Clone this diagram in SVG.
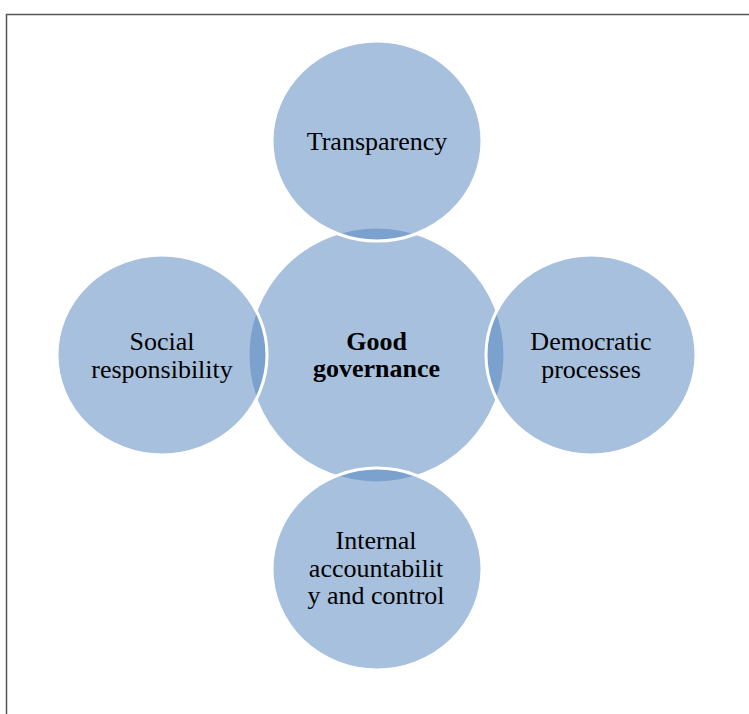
<svg xmlns="http://www.w3.org/2000/svg" width="749" height="714" viewBox="0 0 749 714">
<style>
.c{fill:#4F81BD;fill-opacity:0.5;stroke:#FFFFFF;stroke-width:3}
.t{font-family:"Liberation Serif","Times New Roman",serif;font-size:26px;fill:#000;text-anchor:middle}
.b{font-weight:bold}
</style>
<rect x="0" y="0" width="749" height="714" fill="#FFFFFF"/>
<path d="M6.5 714 V14.5 H749" fill="none" stroke="#555555" stroke-width="1.5"/>
<g id="good-governance">
<ellipse class="c" cx="376.5" cy="355" rx="128.5" ry="128"/>
</g>
<g id="transparency">
<ellipse class="c" cx="377" cy="141" rx="105" ry="100"/>
<text class="t" x="377" y="150">Transparency</text>
</g>
<g id="social-responsibility">
<ellipse class="c" cx="162" cy="355" rx="105" ry="100"/>
<text class="t" x="162" y="350">Social</text>
<text class="t" x="162" y="378">responsibility</text>
</g>
<g id="democratic-processes">
<ellipse class="c" cx="591" cy="355" rx="105" ry="100"/>
<text class="t" x="591" y="350">Democratic</text>
<text class="t" x="591" y="378">processes</text>
</g>
<g id="internal-accountability">
<ellipse class="c" cx="377" cy="569" rx="105" ry="101"/>
<text class="t" x="376" y="549">Internal</text>
<text class="t" x="376" y="577">accountabilit</text>
<text class="t" x="376" y="604">y and control</text>
</g>
<g id="center-label">
<text class="t b" x="376.5" y="350">Good</text>
<text class="t b" x="376.5" y="377">governance</text>
</g>
<g id="connectors"></g>
</svg>
